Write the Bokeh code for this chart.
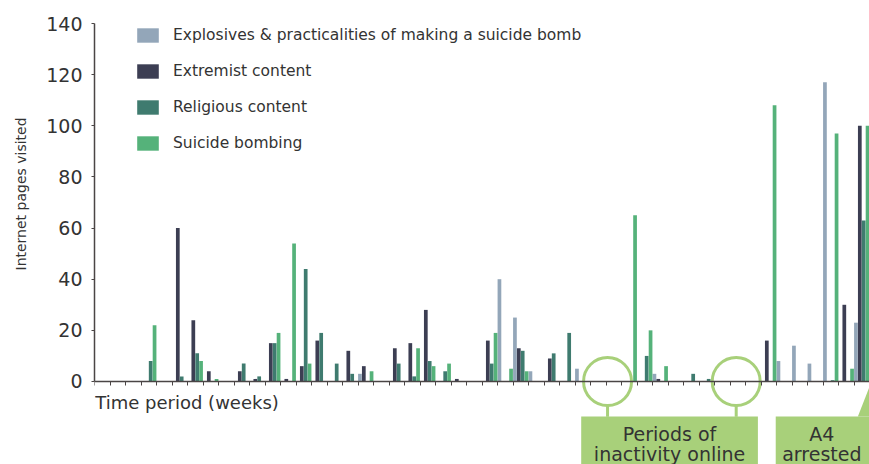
from bokeh.plotting import figure
from bokeh.models import Range1d, FixedTicker, Label, Title, ColumnDataSource, CustomLabelingPolicy
from bokeh.transform import dodge
from bokeh.core.properties import value
from bokeh.embed import file_html
from bokeh.resources import INLINE

# ---- data (internet pages visited per week) ----
weeks = list(range(50))
explosives = [0, 0, 0, 0, 0, 0, 0, 0, 0, 0,
              0, 0, 0, 0, 0, 0, 0, 3, 0, 0,
              0, 0, 0, 0, 0, 0, 40, 25, 4, 0,
              0, 5, 0, 0, 0, 0, 3, 0, 0, 0,
              0, 0, 0, 0, 8, 14, 7, 117, 0, 23]
extremist = [0, 0, 0, 0, 0, 60, 24, 4, 0, 4,
             1, 15, 1, 6, 16, 0, 12, 6, 0, 13,
             15, 28, 0, 1, 0, 16, 0, 13, 0, 9,
             0, 0, 0, 0, 0, 0, 1, 0, 0, 0,
             0, 0, 0, 16, 0, 0, 0, 0, 30, 100]
religious = [0, 0, 0, 8, 0, 2, 11, 0, 0, 7,
             2, 15, 0, 44, 19, 7, 3, 0, 0, 7,
             2, 8, 4, 0, 0, 7, 0, 12, 0, 11,
             19, 0, 0, 0, 0, 10, 0, 0, 3, 1,
             0, 0, 0, 0, 0, 0, 0, 0.5, 0, 63]
suicide = [0, 0, 0, 22, 0, 0, 8, 1, 0, 0,
           0, 19, 54, 7, 0, 0, 0, 4, 0, 0,
           13, 6, 7, 0, 0, 19, 5, 4, 0, 0,
           0, 0, 0, 0, 65, 20, 6, 0, 0, 0,
           0, 0, 0, 108, 0, 0, 0, 97, 5, 100]
series_names = ["explosives", "extremist", "religious", "suicide"]
series_labels = ["Explosives & practicalities of making a suicide bomb",
                 "Extremist content", "Religious content", "Suicide bombing"]
series_colors = ["#93a6b9", "#3c3e53", "#3f7b6f", "#55b27a"]
y_ticks = [0, 20, 40, 60, 80, 100, 120, 140]
week_ticks = list(range(0, 51))

# annotation positions (in week units)
inactive_centers = [33.1, 41.4]
inactive_box = (31.4, 42.8)
arrest_box = (43.95, 50.6)
arrest_week = 50.0

FONT = "DejaVu Sans"
TXT = "#333333"
AXIS = "#4a4545"
GREEN_LIGHT = "#a8d07a"

source = ColumnDataSource(dict(week=[w + 0.5 for w in weeks], explosives=explosives,
                               extremist=extremist, religious=religious, suicide=suicide))

p = figure(width=869, height=464, output_backend="svg", toolbar_location=None,
           x_range=Range1d(0, 50), y_range=Range1d(-32.46, 140),
           x_axis_location="above", min_border_left=93, min_border_right=0,
           min_border_top=23, min_border_bottom=0, title=None)
p.outline_line_color = None
p.xgrid.visible = False
p.ygrid.visible = False
p.background_fill_color = "white"
p.border_fill_color = "white"

offsets = [-0.375, -0.125, 0.125, 0.375]
for name, label, color, off in zip(series_names, series_labels, series_colors, offsets):
    p.vbar(x=dodge("week", off, range=p.x_range), top=name, bottom=0, width=0.24,
           source=source, fill_color=color, line_color=None, legend_label=label)

# y axis
ya = p.yaxis[0]
ya.ticker = FixedTicker(ticks=y_ticks)
ya.bounds = (0, 140)
ya.major_label_text_font = FONT
ya.major_label_text_font_size = "19px"
ya.major_label_text_color = TXT
ya.major_tick_out = 3
ya.major_tick_in = 0
ya.minor_tick_out = 0
ya.minor_tick_in = 0
ya.major_label_standoff = 9
ya.axis_line_color = AXIS
ya.axis_line_width = 1.5
ya.major_tick_line_color = AXIS

# y axis title as a side title, placed along the 0-140 part of the axis
p.add_layout(Title(text="Internet pages visited", align="left", offset=194,
                   vertical_align="top", standoff=25,
                   text_font=FONT, text_font_size="14px", text_font_style="normal",
                   text_color=TXT), "left")

# x axis (weeks), drawn at y = 0, tick marks only
xa = p.xaxis[0]
xa.fixed_location = 0
xa.ticker = FixedTicker(ticks=week_ticks)
xa.major_label_policy = CustomLabelingPolicy(code="""
for (const i of indices) { indices.unset(i) }
return indices
""")
xa.major_tick_in = 4
xa.major_tick_out = 0
xa.minor_tick_in = 0
xa.minor_tick_out = 0
xa.axis_line_color = AXIS
xa.axis_line_width = 1.5
xa.major_tick_line_color = AXIS

# legend
lg = p.legend[0]
lg.location = (40, 312)
lg.padding = 0
lg.margin = 0
lg.spacing = 18
lg.glyph_width = 27
lg.glyph_height = 18
lg.label_standoff = 12
lg.label_text_font = FONT
lg.label_text_font_size = "15.5px"
lg.label_text_color = TXT
lg.border_line_color = None
lg.background_fill_alpha = 0

p.add_layout(Label(x=0.05, y=-8.2, text="Time period (weeks)", text_align="left",
                   text_baseline="middle", text_font=FONT, text_font_size="18px",
                   text_color=TXT))

# inactivity circles and call-out boxes
p.scatter(x=inactive_centers, y=[0, 0], size=48, marker="circle", fill_color=None,
          line_color=GREEN_LIGHT, line_width=3)
p.segment(x0=inactive_centers, y0=[-9.4, -9.4], x1=inactive_centers, y1=[-13.8, -13.8],
          line_color=GREEN_LIGHT, line_width=3)
p.quad(left=[inactive_box[0], arrest_box[0]], right=[inactive_box[1], arrest_box[1]],
       bottom=[-33, -33], top=[-13.7, -13.7], fill_color=GREEN_LIGHT, line_color=None)
p.patch(x=[arrest_week - 0.75, arrest_week, arrest_week + 0.75],
        y=[-13.7, -2.0, -13.7], fill_color=GREEN_LIGHT, line_color=None)
mid1 = (inactive_box[0] + inactive_box[1]) / 2
mid2 = (arrest_box[0] + 50) / 2 - 0.05
p.text(x=[mid1, mid1, mid2, mid2], y=[-20.6, -28.2, -20.6, -28.2],
       text=["Periods of", "inactivity online", "A4", "arrested"],
       text_align="center", text_baseline="middle", text_font=value(FONT),
       text_font_size="19px", text_color=TXT)

open("out.html", "w").write(file_html(p, INLINE))
